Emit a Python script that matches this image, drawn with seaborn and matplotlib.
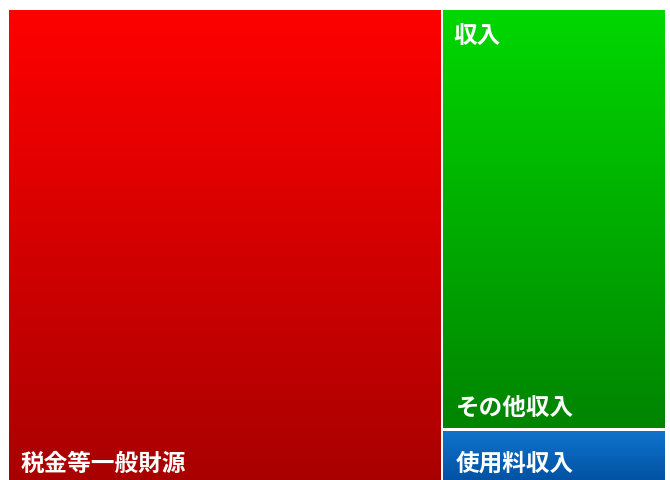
import numpy as np
import matplotlib
matplotlib.use("Agg")
import matplotlib.pyplot as plt
import seaborn as sns
from matplotlib.colors import LinearSegmentedColormap

sns.set_theme(style="white")
plt.rcParams['font.family'] = ['Noto Sans CJK JP', 'DejaVu Sans']

# treemap data (share of revenue, %)
labels = ["税金等一般財源", "その他収入", "使用料収入"]
values = [66.0, 30.0, 4.0]
groups = [None, "収入", "収入"]
top_colors = ["#ff0000", "#00d800", "#0f73cd"]
bottom_colors = ["#a80000", "#008400", "#0050a0"]

W, H = 656.0, 476.0
gap = 3.0

fig = plt.figure(figsize=(6.7, 4.8), dpi=100)
ax = fig.add_axes([9 / 670, (480 - 10 - H) / 480, W / 670, H / 480])

# slice: first item takes a column, the rest stack in the remaining column
total = sum(values)
rects = []
w0 = W * values[0] / total
rects.append((0, 0, w0, H))
rest = sum(values[1:])
y = 0
for v in values[1:]:
    h = H * v / rest
    rects.append((w0, y, W - w0, h))
    y += h

for (x, y, w, h), lab, c1, c2 in zip(rects, labels, top_colors, bottom_colors):
    cmap = LinearSegmentedColormap.from_list("g", [c1, c2])
    grad = np.linspace(0, 1, 256).reshape(-1, 1)
    x0, y0, x1, y1 = x + gap / 2, y + gap / 2, x + w - gap / 2, y + h - gap / 2
    if x == 0:
        x0 = x
    if y == 0:
        y0 = y
    if x + w >= W - 0.1:
        x1 = x + w
    ax.imshow(grad, cmap=cmap, aspect="auto", extent=(x0, x1, y1, y0),
              interpolation="bilinear", zorder=1)
    ax.text(x0 + 12, y1 - 21, lab, color="white", fontsize=17,
            fontweight="bold", va="center", ha="left", zorder=3)

# parent label for the stacked group
gx = rects[1][0] + gap / 2
ax.text(gx + 10, 26, groups[1], color="white", fontsize=17,
        fontweight="bold", va="center", ha="left", zorder=3)

ax.set_xlim(0, W)
ax.set_ylim(H, 0)
ax.axis("off")

fig.savefig("out.png", dpi=100)
